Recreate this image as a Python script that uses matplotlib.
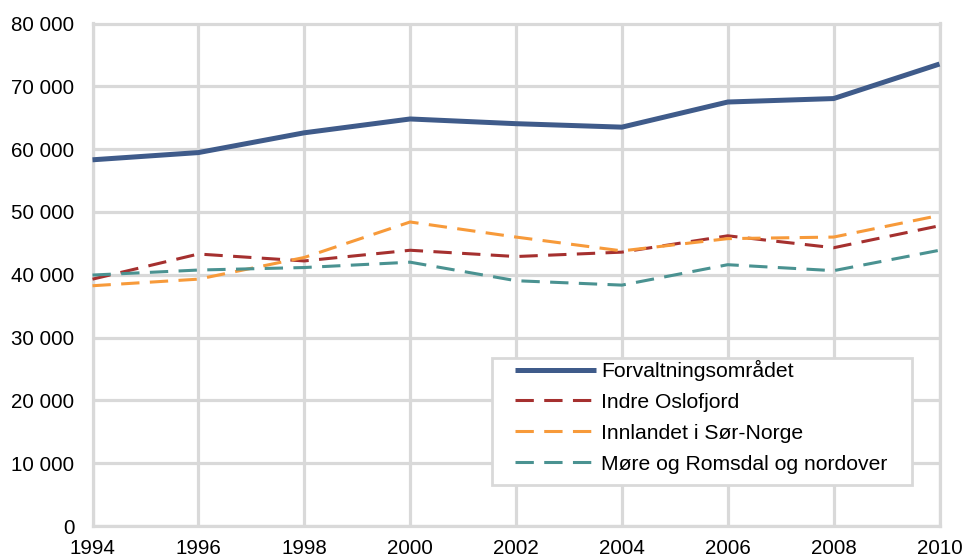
import matplotlib
matplotlib.use("Agg")
import matplotlib.pyplot as plt
from matplotlib.ticker import FuncFormatter
from matplotlib.patches import Rectangle

years = [1994, 1996, 1998, 2000, 2002, 2004, 2006, 2008, 2010]
forvaltning = [58300, 59450, 62600, 64800, 64050, 63500, 67500, 68050, 73550]
indre_oslofjord = [39300, 43300, 42200, 43900, 42900, 43600, 46200, 44300, 47800]
innlandet = [38250, 39300, 42750, 48400, 46000, 43800, 45750, 46000, 49450]
more_romsdal = [39950, 40750, 41150, 42000, 39050, 38350, 41600, 40650, 43900]

labels = ["Forvaltningsområdet", "Indre Oslofjord", "Innlandet i Sør-Norge",
          "Møre og Romsdal og nordover"]
y_ticks = list(range(0, 80001, 10000))

plt.rcParams['font.family'] = ['Liberation Sans', 'DejaVu Sans']

W, H = 963, 559
fig = plt.figure(figsize=(W/100, H/100), dpi=100)
ax = fig.add_axes([92.5/W, 1-526/H, (939.5-92.5)/W, (526-23.5)/H])

grid_c = "#d9d9d9"
fs_tick = 14.8
fs_leg = 15.2
ax.set_xlim(1994, 2010)
ax.set_ylim(0, 80000)
ax.set_xticks(years)
ax.set_yticks(y_ticks)
ax.grid(True, color=grid_c, linewidth=2.3)
ax.set_axisbelow(True)
for s in ax.spines.values():
    s.set_color(grid_c)
    s.set_linewidth(2.3)
ax.tick_params(length=0, labelsize=fs_tick, colors="black")
ax.tick_params(axis='y', pad=13)
ax.tick_params(axis='x', pad=9)
ax.yaxis.set_major_formatter(FuncFormatter(lambda v, p: f"{int(v):,}".replace(",", " ")))

ax.plot(years, forvaltning, color="#3F5B8A", linewidth=3.6, label=labels[0],
        solid_capstyle='butt', clip_on=False, zorder=5)
dash = (6.0, 3.4)
ax.plot(years, indre_oslofjord, color="#A5302F", linewidth=2.2, dashes=dash,
        label=labels[1], clip_on=False, zorder=4)
ax.plot(years, innlandet, color="#F79A3A", linewidth=2.2, dashes=dash,
        label=labels[2], clip_on=False, zorder=4)
ax.plot(years, more_romsdal, color="#4A9291", linewidth=2.2, dashes=dash,
        label=labels[3], clip_on=False, zorder=4)

# legend frame
frame = Rectangle((491.7/W, 1-485/H), (912-491.7)/W, (485-358)/H,
                  transform=fig.transFigure, facecolor="white",
                  edgecolor=grid_c, linewidth=2.0, zorder=9)
fig.add_artist(frame)

leg = fig.legend(loc='upper left', bbox_to_anchor=(515/W, 1-360/H),
                 bbox_transform=fig.transFigure,
                 fontsize=fs_leg, frameon=False, handlelength=3.85,
                 handletextpad=0.22, labelspacing=0.56, borderpad=0,
                 borderaxespad=0)
leg.set_zorder(10)

fig.savefig("out.png", dpi=100)
